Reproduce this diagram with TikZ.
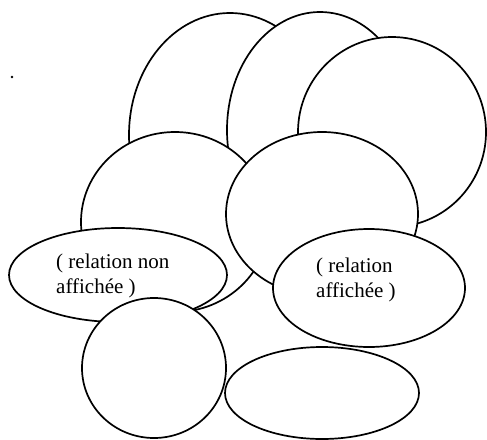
\documentclass[tikz,border=0pt]{standalone}
\usepackage{fontspec}
\setmainfont{Liberation Serif}
\usetikzlibrary{shapes.geometric}
\tikzset{
  blob/.style={draw=black, fill=white, line width=1.7pt, ellipse, inner sep=0pt},
  lbl/.style={align=left, inner sep=0pt, anchor=west, font=\fontsize{21}{25}\selectfont}
}
\begin{document}
\begin{tikzpicture}[x=1pt,y=-1pt]
\useasboundingbox (0,0) rectangle (487,439);
\fill[white] (0,0) rectangle (487,439);
% back row
\node[blob, minimum width=202pt, minimum height=244pt] (A) at (230,135) {};
\node[blob, minimum width=186pt, minimum height=236pt] (B) at (320,130) {};
\node[blob, minimum width=188pt, minimum height=190pt] (C) at (392,132) {};
% middle row
\node[blob, minimum width=188pt, minimum height=180pt] (D) at (175,222) {};
\node[blob, minimum width=192pt, minimum height=164pt] (E) at (322,214) {};
% relation ellipses
\node[blob, minimum width=218pt, minimum height=94pt] (F) at (118,275) {};
\node[blob, minimum width=192pt, minimum height=118pt] (G) at (369,288) {};
% bottom row
\node[blob, minimum width=144pt, minimum height=140pt] (H) at (154,368) {};
\node[blob, minimum width=194pt, minimum height=92pt] (I) at (322,393) {};
% texts
\node[lbl] (Ft) at (56,276) {( relation non\\affichée )};
\node[lbl] (Gt) at (316,280) {( relation\\affichée )};
% stray dot
\fill (12,77) circle (1.3pt);
\end{tikzpicture}
\end{document}
